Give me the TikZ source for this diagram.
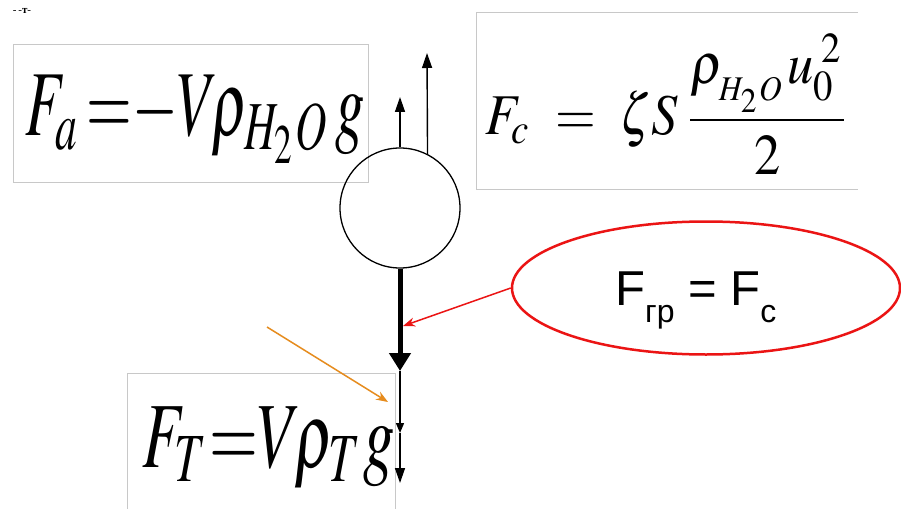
\documentclass[tikz,border=0pt]{standalone}
\usepackage{amsmath}
\usepackage{mathptmx}
\usepackage[no-math]{fontspec}
\setmainfont{Liberation Serif}
\newfontfamily\arialfont{Liberation Sans}
\usepackage{graphicx}
\usetikzlibrary{arrows.meta,shapes.geometric}
\definecolor{frameg}{RGB}{200,200,200}
\definecolor{redc}{RGB}{235,20,20}
\definecolor{orangec}{RGB}{230,140,30}
\tikzset{
  boxframe/.style={draw=frameg, line width=0.8pt, inner sep=0, anchor=north west},
  formula/.style={inner sep=0, anchor=north west},
  thinarrow/.style={line width=1.4pt, -{Triangle[length=15pt,width=10pt]}},
  thickarrow/.style={line width=5pt, -{Triangle[length=18pt,width=21pt]}},
  smallhead/.style={line width=1.4pt, -{Triangle[length=10pt,width=8pt]}},
  pointer/.style={line width=1.5pt, -{Stealth[length=12pt,width=9pt]}},
}
\begin{document}
\begin{tikzpicture}[x=1pt,y=-1pt]
\useasboundingbox[fill=white] (0,0) rectangle (901,508);
% stray text fragment
\node[inner sep=0, font=\fontsize{11}{11}\selectfont] (frag) at (22,11) {-\,-\textbf{т}-};
% formula boxes
\node[boxframe, minimum width=355pt, minimum height=138pt] (fabox) at (13,44) {};
\draw[frameg, line width=0.8pt] (858,12) -| (476,189) -- (858,189);
\coordinate (fcbox) at (476,12);
\node[boxframe, minimum width=268pt, minimum height=140pt] (ftbox) at (127,373) {};
% formulas
\node[formula] (fa) at (25,75) {\resizebox*{340pt}{88pt}{$F_a{\,=}{-}V\!\rho_{H_2O}\,g$}};
\node[formula] (fc) at (485,34) {\resizebox*{365pt}{140pt}{$F_c \;=\; \zeta S\,\dfrac{\rho_{_{H_2O}}u_0^{\;2}}{2}$}};
\node[formula] (ft) at (142,407) {\resizebox*{253pt}{82pt}{$F_T{=}V\!\rho_T g$}};
% ball and forces
\node[circle, draw, line width=1.3pt, minimum size=120pt, inner sep=0] (ball) at (400,208) {};
\coordinate (upA) at (400,97);
\coordinate (upB) at (427,53);
\coordinate (mid) at (400,371);
\coordinate (t1) at (400,433);
\coordinate (t2) at (400,483);
\draw[thinarrow] (ball.north) -- (upA);
\draw[thinarrow] (ball.63.3) -- (upB);
\draw[thickarrow] (ball.south) -- (mid);
\draw[smallhead] (mid) -- (t1);
\draw[thinarrow] (t1) -- (t2);
% ellipse callout
\node[ellipse, draw=redc, line width=2.5pt, minimum width=388pt, minimum height=133pt, inner sep=0] (ell) at (706,288) {};
\node[inner sep=0, anchor=base west, font=\arialfont\fontsize{49}{50}\selectfont] (eqtxt) at (615,305)
  {F\raisebox{-17pt}{\fontsize{32}{32}\selectfont гр} = F\raisebox{-17pt}{\fontsize{32}{32}\selectfont c}};
\coordinate (redtip) at (403,326);
\draw[pointer, redc] (ell.west) -- (redtip);
\coordinate (orS) at (267,327);
\coordinate (orT) at (388,402);
\draw[pointer, orangec] (orS) -- (orT);
\end{tikzpicture}
\end{document}
